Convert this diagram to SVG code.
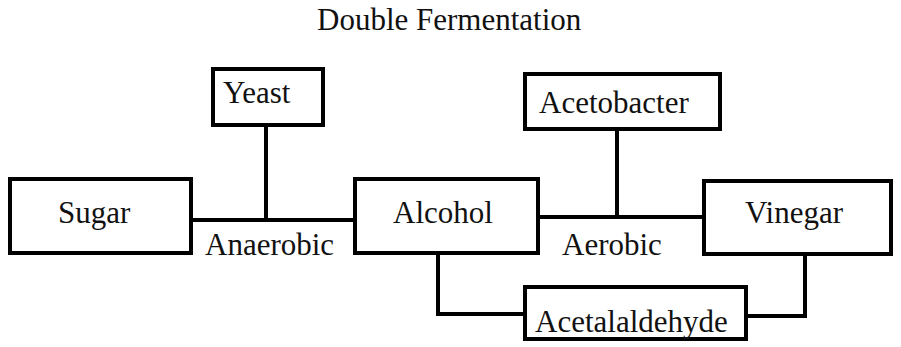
<svg xmlns="http://www.w3.org/2000/svg" width="901" height="347" viewBox="0 0 901 347">
<style>
rect{fill:#fff;stroke:#000;stroke-width:4}
.c{fill:none;stroke:#000;stroke-width:4}
text{font-family:"Liberation Serif","Times New Roman",serif;font-size:31px;fill:#111}
</style>
<rect x="0" y="0" width="901" height="347" style="stroke:none"/>
<text x="317" y="30">Double Fermentation</text>
<g id="connectors">
<path class="c" d="M193 220H353"/>
<path class="c" d="M266 127V220"/>
<path class="c" d="M540 217H702"/>
<path class="c" d="M617 131V217"/>
<path class="c" d="M438 255V314H523"/>
<path class="c" d="M805 256V316H748"/>
</g>
<text x="205" y="255">Anaerobic</text>
<text x="562" y="255">Aerobic</text>
<g id="sugar"><rect x="10" y="179" width="181" height="74"/><text x="58" y="223">Sugar</text></g>
<g id="yeast"><rect x="213" y="69" width="110" height="56"/><text x="223" y="103">Yeast</text></g>
<g id="alcohol"><rect x="355" y="179" width="183" height="74"/><text x="393" y="223">Alcohol</text></g>
<g id="acetobacter"><rect x="525" y="74" width="195" height="55"/><text x="539" y="113">Acetobacter</text></g>
<g id="vinegar"><rect x="704" y="181" width="187" height="73"/><text x="745" y="223">Vinegar</text></g>
<g id="acetalaldehyde"><rect x="525" y="287" width="221" height="52"/><text x="535" y="332">Acetalaldehyde</text></g>
</svg>
